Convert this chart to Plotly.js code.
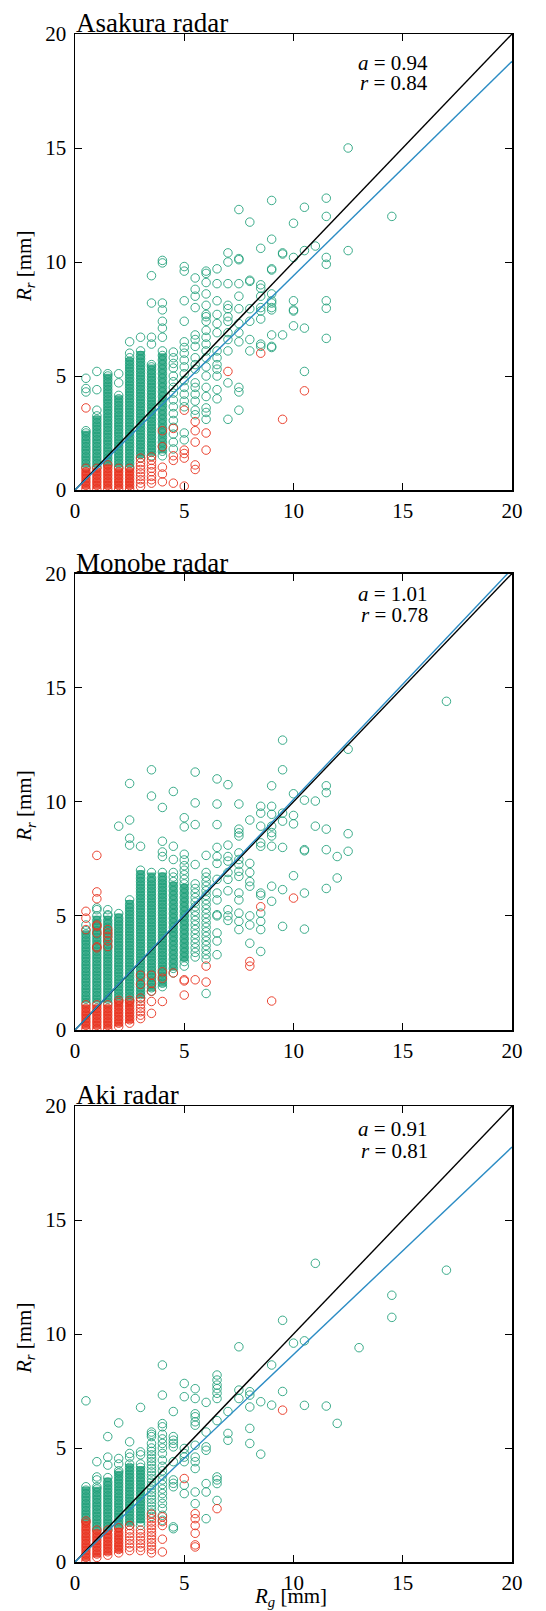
<!DOCTYPE html>
<html>
<head>
<meta charset="utf-8">
<script src="https://cdn.plot.ly/plotly-3.0.1.min.js"></script>
<style>html,body{margin:0;padding:0;background:#fff;}#chart{width:546px;height:1611px;}</style>
</head>
<body>
<div id="chart"></div>
<script>
// ---------------- DATA ----------------
const panelTitles = ['Asakura radar', 'Monobe radar', 'Aki radar'];
const slopes = [0.94, 1.01, 0.91];
const corrs = [0.84, 0.78, 0.81];
const tickVals = [0, 5, 10, 15, 20];

// Individual circles: [Rg (gauge, mm), [Rr values (radar, mm)]]
const asakuraGreen = [
  [0.5, [1.0,1.15,1.3,1.45,1.6,1.75,1.9,2.05,2.2,2.35,2.5,2.6,4.3,4.45,4.9]],
  [1.0, [1.0,1.15,1.3,1.45,1.6,1.75,1.9,2.05,2.2,2.35,2.5,2.65,2.8,2.95,3.1,3.25,3.5,4.4,5.2]],
  [1.5, [1.1,1.25,1.4,1.55,1.7,1.85,2.0,2.15,2.3,2.45,2.6,2.75,2.9,3.05,3.2,3.35,3.5,3.65,3.8,3.95,4.1,4.25,4.4,4.55,4.7,4.85,5.0,5.1]],
  [2.0, [1.0,1.15,1.3,1.45,1.6,1.75,1.9,2.05,2.2,2.35,2.5,2.65,2.8,2.95,3.1,3.25,3.4,3.55,3.7,3.85,4.0,4.15,4.7,5.1]],
  [2.5, [1.0,1.15,1.3,1.45,1.6,1.75,1.9,2.05,2.2,2.35,2.5,2.65,2.8,2.95,3.1,3.25,3.4,3.55,3.7,3.85,4.0,4.15,4.3,4.45,4.6,4.75,4.9,5.05,5.2,5.35,5.5,5.65,5.8,6.0,6.5]],
  [3.0, [1.4,1.55,1.7,1.85,2.0,2.15,2.3,2.45,2.6,2.75,2.9,3.05,3.2,3.35,3.5,3.65,3.8,3.95,4.1,4.25,4.4,4.55,4.7,4.85,5.0,5.15,5.3,5.45,5.6,5.75,5.9,6.1,6.7]],
  [3.5, [1.5,1.65,1.8,1.95,2.1,2.25,2.4,2.55,2.7,2.85,3.0,3.15,3.3,3.45,3.6,3.75,3.9,4.05,4.2,4.35,4.5,4.65,4.8,4.95,5.1,5.25,5.4,5.5,6.4,6.7,8.2,9.4]],
  [4.0, [1.5,1.7,1.9,2.1,2.3,2.5,2.7,2.9,3.1,3.3,3.5,3.7,3.9,4.1,4.3,4.5,4.7,4.9,5.1,5.3,5.5,5.7,5.9,6.1,6.7,7.1,7.4,7.9,8.2,9.96,10.07]],
  [4.5, [1.8,2.1,2.45,2.75,3.05,3.35,3.65,3.95,4.25,4.5,4.75,5.0,5.35,5.55,5.8,6.05]],
  [5.0, [2.2,2.5,3.65,3.9,4.2,4.5,4.8,5.1,5.4,5.7,6.0,6.25,6.5,7.4,8.3,9.6,9.8]],
  [5.5, [3.3,3.5,3.9,4.2,4.5,4.7,5.3,5.5,5.8,6.3,6.6,6.8,8.0,8.5,8.8,9.3]],
  [6.0, [3.1,3.4,3.6,4.1,4.5,5.0,5.4,5.8,6.1,6.4,6.7,7.0,7.4,7.6,7.7,8.1,8.6,9.1,9.5,9.6]],
  [6.5, [4.0,4.4,5.0,5.3,5.5,5.8,6.1,6.9,7.3,7.7,8.3,9.05,9.7]],
  [7.0, [3.1,4.7,6.1,6.6,6.9,7.4,7.6,7.95,8.1,9.05,10.0,10.4]],
  [7.5, [3.5,4.3,4.5,6.5,6.9,7.3,7.95,8.5,9.05,10.1,10.15,12.3]],
  [8.0, [6.1,6.6,7.4,7.95,9.15,9.2,11.75]],
  [8.5, [6.3,6.4,7.5,7.85,8.0,8.5,8.85,9.0,10.6]],
  [9.0, [6.25,6.3,6.8,7.9,8.0,8.2,8.3,8.6,9.65,9.7,11.0,12.7]],
  [9.5, [6.8,10.35,10.4]],
  [10.0, [7.2,7.85,7.9,8.3,10.2,11.7]],
  [10.5, [5.2,7.1,10.5,12.4]],
  [11.0, [10.7]],
  [11.5, [6.65,7.97,8.3,9.9,10.2,12.0,12.8]],
  [12.5, [10.5,15.0]],
  [14.5, [12.0]]
];
const asakuraRed = [
  [0.5, [0.05,0.2,0.35,0.5,0.65,0.8,0.95,3.6]],
  [1.0, [0.05,0.2,0.35,0.5,0.65,0.8,0.95]],
  [1.5, [0.05,0.2,0.35,0.5,0.65,0.8,0.95,1.1]],
  [2.0, [0.05,0.2,0.35,0.5,0.65,0.8,0.95]],
  [2.5, [0.05,0.2,0.35,0.5,0.65,0.8,0.95]],
  [3.0, [0.15,0.3,0.45,0.6,0.75,0.9,1.05,1.2,1.4]],
  [3.5, [0.3,0.45,0.6,0.8,0.95,1.1,1.3,1.45]],
  [4.0, [0.36,0.7,1.0,1.9,2.6]],
  [4.5, [0.3,1.3,1.5,2.7]],
  [5.0, [0.17,1.4,1.6,1.75,3.5]],
  [5.5, [0.9,1.1,2.1,2.6,3.0]],
  [6.0, [1.75,2.5]],
  [7.0, [5.2]],
  [8.5, [6.0]],
  [9.5, [3.1]],
  [10.5, [4.35]]
];
// Densely packed runs of circles: [Rg, lowest Rr, highest Rr]
const asakuraGreenBands = [[0.5,1.0,2.6],[1.0,1.0,3.25],[1.5,1.1,5.1],[2.0,1.0,4.15],[2.5,1.0,5.8],[3.0,1.4,6.1],[3.5,1.5,5.5],[4.0,1.6,6.0]];
const asakuraRedBands = [[0.5,0.05,0.95],[1.0,0.05,0.95],[1.5,0.05,1.1],[2.0,0.05,0.95],[2.5,0.05,0.95]];

const monobeGreen = [
  [0.5, [1.2,1.35,1.5,1.65,1.8,1.95,2.1,2.25,2.4,2.55,2.7,2.85,3.0,3.15,3.3,3.45,3.6,3.75,3.9,4.05,4.2,4.35,4.6]],
  [1.0, [1.2,1.35,1.5,1.65,1.8,1.95,2.1,2.25,2.4,2.55,2.7,2.85,3.0,3.15,3.3,3.45,3.6,3.75,3.9,4.05,4.2,4.35,4.5,4.65,4.8,5.0,5.27,5.35]],
  [1.5, [1.2,1.35,1.5,1.65,1.8,1.95,2.1,2.25,2.4,2.55,2.7,2.85,3.0,3.15,3.3,3.45,3.6,3.75,3.9,4.05,4.2,4.35,4.5,4.65,4.8,5.0,5.05,5.27]],
  [2.0, [1.3,1.45,1.6,1.75,1.9,2.05,2.2,2.35,2.5,2.65,2.8,2.95,3.1,3.25,3.4,3.55,3.7,3.85,4.0,4.15,4.3,4.45,4.6,4.75,4.9,5.1,8.93]],
  [2.5, [1.3,1.45,1.6,1.75,1.9,2.05,2.2,2.35,2.5,2.65,2.8,2.95,3.1,3.25,3.4,3.55,3.7,3.85,4.0,4.15,4.3,4.45,4.6,4.75,4.9,5.05,5.2,5.35,5.5,5.7,8.1,8.4,9.2,10.8]],
  [3.0, [1.4,1.55,1.7,1.85,2.0,2.15,2.3,2.45,2.6,2.75,2.9,3.05,3.2,3.35,3.5,3.65,3.8,3.95,4.1,4.25,4.4,4.55,4.7,4.85,5.0,5.15,5.3,5.45,5.6,5.75,5.9,6.05,6.2,6.35,6.5,6.65,6.8,7.0,8.05]],
  [3.5, [1.7,1.85,2.0,2.15,2.3,2.45,2.6,2.75,2.9,3.05,3.2,3.35,3.5,3.65,3.8,3.95,4.1,4.25,4.4,4.55,4.7,4.85,5.0,5.15,5.3,5.45,5.6,5.75,5.9,6.05,6.2,6.35,6.5,6.65,6.9,10.25,11.4]],
  [4.0, [1.9,2.05,2.2,2.35,2.5,2.65,2.8,2.95,3.1,3.25,3.4,3.55,3.7,3.85,4.0,4.15,4.3,4.45,4.6,4.75,4.9,5.05,5.2,5.35,5.5,5.65,5.8,5.95,6.1,6.25,6.4,6.55,6.7,6.9,7.6,7.8,8.27,9.75]],
  [4.5, [2.5,2.7,2.9,3.1,3.3,3.5,3.7,3.9,4.1,4.3,4.5,4.7,4.9,5.1,5.3,5.5,5.7,5.9,6.1,6.3,6.5,6.7,6.9,7.47,8.05,10.45]],
  [5.0, [2.8,3.0,3.2,3.4,3.6,3.8,4.0,4.2,4.4,4.6,4.8,5.0,5.2,5.4,5.6,5.8,6.0,6.2,6.4,6.6,6.8,7.0,7.2,7.45,7.7,8.9,9.3]],
  [5.5, [3.2,3.4,3.6,3.8,4.0,4.2,4.4,4.6,4.8,5.0,5.2,5.4,5.6,5.8,6.0,6.2,6.4,7.25,9.0,9.95,11.3]],
  [6.0, [1.6,3.1,3.3,3.5,3.7,3.9,4.1,4.3,4.5,4.7,4.9,5.1,5.3,5.5,5.7,5.9,6.1,6.3,6.5,6.7,6.9,7.65]],
  [6.5, [3.3,3.9,4.25,5.0,5.05,5.7,6.0,6.6,7.3,7.6,8.0,9.0,9.9,11.0]],
  [7.0, [4.8,5.0,5.27,6.1,6.6,6.9,7.4,7.6,8.1,10.75]],
  [7.5, [4.4,4.76,5.12,5.7,6.0,6.73,6.95,7.25,7.47,7.76,8.5,8.64,8.8,9.9]],
  [8.0, [3.8,4.6,5.0,6.3,6.5,6.9,7.3,9.2]],
  [8.5, [3.44,4.4,4.76,5.12,5.9,6.0,8.05,8.2,8.93,9.5,9.8]],
  [9.0, [5.64,6.3,8.05,8.5,8.65,8.93,9.45,9.8,10.7]],
  [9.5, [4.54,6.15,8.0,9.15,9.5,11.4,12.7]],
  [10.0, [6.76,9.03,9.4,10.35]],
  [10.5, [4.42,6.0,7.85,7.9,10.07]],
  [11.0, [8.93,10.03]],
  [11.5, [6.2,7.9,8.8,10.4,10.7]],
  [12.0, [6.66,7.6]],
  [12.5, [7.83,8.6,12.3]],
  [17.0, [14.4]]
];
const monobeRed = [
  [0.5, [0.05,0.2,0.35,0.5,0.65,0.8,0.95,1.1,4.4,4.9,5.2]],
  [1.0, [0.05,0.2,0.35,0.5,0.65,0.8,0.95,1.1,3.6,3.65,4.25,4.55,4.6,5.75,6.05,7.65]],
  [1.5, [0.05,0.2,0.35,0.5,0.65,0.8,0.95,1.1,3.66,3.9,4.1,4.25,4.4]],
  [2.0, [0.15,0.3,0.45,0.6,0.75,0.9,1.05,1.2,1.3]],
  [2.5, [0.3,0.45,0.6,0.75,0.9,1.05,1.2,1.3]],
  [3.0, [0.5,0.65,0.8,0.95,1.1,1.25,1.4,2.0,2.4]],
  [3.5, [0.73,1.25,1.7,2.05,2.4]],
  [4.0, [1.25,2.27,2.55]],
  [4.5, [2.5]],
  [5.0, [1.53,2.15,2.2]],
  [5.5, [2.2]],
  [6.0, [2.1,2.8]],
  [8.0, [2.8,3.0]],
  [8.5, [5.4]],
  [9.0, [1.27]],
  [10.0, [5.78]]
];
const monobeGreenBands = [[0.5,1.2,4.35],[1.0,1.2,5.0],[1.5,1.2,5.0],[2.0,1.3,5.1],[2.5,1.3,5.7],[3.0,1.4,7.0],[3.5,1.7,6.9],[4.0,1.9,6.9],[4.5,2.6,6.5],[5.0,3.0,6.4]];
const monobeRedBands = [[0.5,0.05,1.1],[1.0,0.05,1.1],[1.5,0.05,1.1],[2.0,0.15,1.3],[2.5,0.3,1.3]];

const akiGreen = [
  [0.5, [1.8,1.95,2.1,2.25,2.4,2.55,2.7,2.85,3.0,3.15,3.3,7.07]],
  [1.0, [1.4,1.55,1.7,1.85,2.0,2.15,2.3,2.45,2.6,2.75,2.9,3.05,3.2,3.3,3.6,3.73,4.4]],
  [1.5, [1.4,1.55,1.7,1.85,2.0,2.15,2.3,2.45,2.6,2.75,2.9,3.05,3.2,3.35,3.5,3.7,4.25,4.6,5.5]],
  [2.0, [1.5,1.65,1.8,1.95,2.1,2.25,2.4,2.55,2.7,2.85,3.0,3.15,3.3,3.45,3.6,3.75,3.9,4.0,4.3,4.54,6.1]],
  [2.5, [1.6,1.75,1.9,2.05,2.2,2.35,2.5,2.65,2.8,2.95,3.1,3.25,3.4,3.55,3.7,3.85,4.0,4.15,4.3,4.6,4.76,5.27]],
  [3.0, [1.6,1.75,1.9,2.05,2.2,2.35,2.5,2.65,2.8,2.95,3.1,3.25,3.4,3.55,3.7,3.85,4.0,4.15,4.3,4.7,4.83,6.78]],
  [3.5, [2.0,2.15,2.3,2.45,2.6,2.75,2.9,3.05,3.2,3.35,3.5,3.65,3.8,3.95,4.1,4.25,4.4,4.55,4.7,4.85,5.0,5.2,5.5,5.6,5.7]],
  [4.0, [1.83,2.05,2.35,2.57,2.8,3.0,3.2,3.4,3.6,3.8,4.0,4.2,4.47,4.76,5.0,5.2,5.4,5.6,5.93,6.07,7.32,8.64]],
  [4.5, [1.46,1.54,3.3,3.45,3.6,4.4,5.05,5.2,5.34,5.5,6.6]],
  [5.0, [3.0,3.37,4.4,4.6,4.76,4.98,7.25,7.83]],
  [5.5, [2.56,3.07,4.1,4.4,4.6,5.12,6.0,6.15,6.37,6.5,7.17,7.6]],
  [6.0, [1.9,3.07,3.44,4.9,5.05,5.7,7.0]],
  [6.5, [2.7,3.44,3.6,3.73,6.2,7.17,7.4,7.6,7.76,7.98,8.2]],
  [7.0, [5.34,5.64,6.6]],
  [7.5, [7.17,7.54,9.44]],
  [8.0, [5.2,5.86,6.8,7.32,7.47]],
  [8.5, [4.73,7.03]],
  [9.0, [6.88,8.64]],
  [9.5, [7.48,10.6]],
  [10.0, [9.6]],
  [10.5, [6.87,9.7]],
  [11.0, [13.1]],
  [11.5, [6.84]],
  [12.0, [6.08]],
  [13.0, [9.4]],
  [14.5, [10.73,11.7]],
  [17.0, [12.8]]
];
const akiRed = [
  [0.5, [0.05,0.2,0.35,0.5,0.65,0.8,0.95,1.1,1.25,1.4,1.55,1.7,1.8]],
  [1.0, [0.2,0.35,0.5,0.65,0.8,0.95,1.1,1.25,1.4]],
  [1.5, [0.3,0.45,0.6,0.75,0.9,1.05,1.2,1.4]],
  [2.0, [0.4,0.55,0.7,0.85,1.0,1.15,1.3,1.5]],
  [2.5, [0.5,0.65,0.8,0.95,1.1,1.25,1.4,1.6]],
  [3.0, [0.5,0.65,0.8,0.95,1.1,1.25,1.4]],
  [3.5, [0.4,0.55,0.7,0.85,1.0,1.15,1.3,1.45,1.6,1.75,1.9,2.1]],
  [4.0, [0.44,1.0,1.6,1.77,1.98]],
  [5.0, [3.66]],
  [5.5, [0.66,0.75,1.26,1.6,1.9,2.12]],
  [6.5, [2.34]],
  [9.5, [6.66]]
];
const akiGreenBands = [[0.5,1.8,3.3],[1.0,1.4,3.3],[1.5,1.4,3.7],[2.0,1.5,4.0],[2.5,1.6,4.3],[3.0,1.7,4.2]];
const akiRedBands = [[0.5,0.05,1.8],[1.0,0.2,1.4],[1.5,0.3,1.4],[2.0,0.4,1.5]];

const greenSets = [asakuraGreen, monobeGreen, akiGreen];
const redSets = [asakuraRed, monobeRed, akiRed];
const greenBandSets = [asakuraGreenBands, monobeGreenBands, akiGreenBands];
const redBandSets = [asakuraRedBands, monobeRedBands, akiRedBands];

// ---------------- STYLE / LAYOUT ----------------
const W = 546, H = 1611;
const FONT = '"Liberation Serif", "Times New Roman", Times, serif';
const GREEN = '#1b9e77';
const RED = '#e8321e';
const BLUE = '#2b8cc4';
const plotLeft = 75, plotRight = 512;
const panelTops = [34, 573.5, 1106];
const panelBottoms = [490, 1030, 1562];
const statA_Y = [63, 594, 1129];
const statR_Y = [83, 615, 1151];

function flatten(cols) {
  const xs = [], ys = [];
  cols.forEach(([rg, vals]) => vals.forEach(v => { xs.push(rg); ys.push(v); }));
  return {x: xs, y: ys};
}
function bandsToLines(bands) {
  const xs = [], ys = [];
  bands.forEach(([rg, lo, hi]) => { xs.push(rg, rg, null); ys.push(lo, hi, null); });
  return {x: xs, y: ys};
}
const py = p => (H - p) / H;
const px = p => p / W;

const traces = [];
const layout = {
  width: W, height: H,
  margin: {l: 0, r: 0, t: 0, b: 0},
  paper_bgcolor: '#fff', plot_bgcolor: '#fff',
  showlegend: false,
  annotations: []
};

for (let i = 0; i < 3; i++) {
  const sfx = i === 0 ? '' : String(i + 1);
  const xa = 'x' + sfx, ya = 'y' + sfx;
  const gb = bandsToLines(greenBandSets[i]);
  const rb = bandsToLines(redBandSets[i]);
  const g = flatten(greenSets[i]);
  const r = flatten(redSets[i]);
  traces.push({type: 'scatter', mode: 'lines', x: gb.x, y: gb.y, xaxis: xa, yaxis: ya,
    line: {color: GREEN, width: 8}, opacity: 0.8, connectgaps: false, hoverinfo: 'skip'});
  traces.push({type: 'scatter', mode: 'markers', x: g.x, y: g.y, xaxis: xa, yaxis: ya,
    marker: {symbol: 'circle-open', size: 8.5, color: GREEN, opacity: 0.85, line: {width: 1}}, hoverinfo: 'skip'});
  traces.push({type: 'scatter', mode: 'lines', x: rb.x, y: rb.y, xaxis: xa, yaxis: ya,
    line: {color: RED, width: 8}, opacity: 0.85, connectgaps: false, hoverinfo: 'skip'});
  traces.push({type: 'scatter', mode: 'markers', x: r.x, y: r.y, xaxis: xa, yaxis: ya,
    marker: {symbol: 'circle-open', size: 8.5, color: RED, opacity: 0.9, line: {width: 1}}, hoverinfo: 'skip'});
  const xmax = tickVals[tickVals.length - 1];
  traces.push({type: 'scatter', mode: 'lines', x: [0, xmax], y: [0, xmax], xaxis: xa, yaxis: ya,
    line: {color: '#000', width: 1.4}, hoverinfo: 'skip'});
  traces.push({type: 'scatter', mode: 'lines', x: [0, xmax], y: [0, xmax * slopes[i]], xaxis: xa, yaxis: ya,
    line: {color: BLUE, width: 1.4}, hoverinfo: 'skip'});

  const axCommon = {
    range: [0, 20], tickvals: tickVals, ticktext: tickVals.map(String),
    ticks: 'inside', ticklen: 7, tickwidth: 1, tickcolor: '#000',
    showline: true, linecolor: '#000', linewidth: 1.5, mirror: 'ticks',
    showgrid: false, zeroline: false,
    tickfont: {family: FONT, size: 21, color: '#000'}, fixedrange: true
  };
  layout['xaxis' + sfx] = Object.assign({}, axCommon, {
    domain: [px(plotLeft), px(plotRight)], anchor: ya, ticklabelstandoff: 1
  });
  layout['yaxis' + sfx] = Object.assign({}, axCommon, {
    domain: [py(panelBottoms[i]), py(panelTops[i])], anchor: xa, ticklabelstandoff: 3
  });

  layout.annotations.push({xref: 'paper', yref: 'paper', x: px(plotLeft - 1), y: py(panelTops[i]),
    xanchor: 'left', yanchor: 'bottom', yshift: -6, showarrow: false, text: panelTitles[i],
    font: {family: FONT, size: 27, color: '#000'}});
  layout.annotations.push({xref: 'paper', yref: 'paper', x: px(430), y: py(statA_Y[i]),
    xanchor: 'right', yanchor: 'middle', showarrow: false,
    text: '<i>a</i> = ' + slopes[i].toFixed(2), font: {family: FONT, size: 21, color: '#000'}});
  layout.annotations.push({xref: 'paper', yref: 'paper', x: px(430), y: py(statR_Y[i]),
    xanchor: 'right', yanchor: 'middle', showarrow: false,
    text: '<i>r</i> = ' + corrs[i].toFixed(2), font: {family: FONT, size: 21, color: '#000'}});
  layout.annotations.push({xref: 'paper', yref: 'paper', x: px(25), y: py((panelTops[i] + panelBottoms[i]) / 2 + 5),
    xanchor: 'center', yanchor: 'middle', textangle: -90, showarrow: false,
    text: '<i>R</i><sub><i>r</i></sub> [mm]', font: {family: FONT, size: 21, color: '#000'}});
}
layout.annotations.push({xref: 'paper', yref: 'paper', x: px(290), y: py(1597),
  xanchor: 'center', yanchor: 'middle', showarrow: false,
  text: '<i>R</i><sub><i>g</i></sub> [mm]', font: {family: FONT, size: 21, color: '#000'}});

Plotly.newPlot('chart', traces, layout, {staticPlot: true, displayModeBar: false});
</script>
</body>
</html>
